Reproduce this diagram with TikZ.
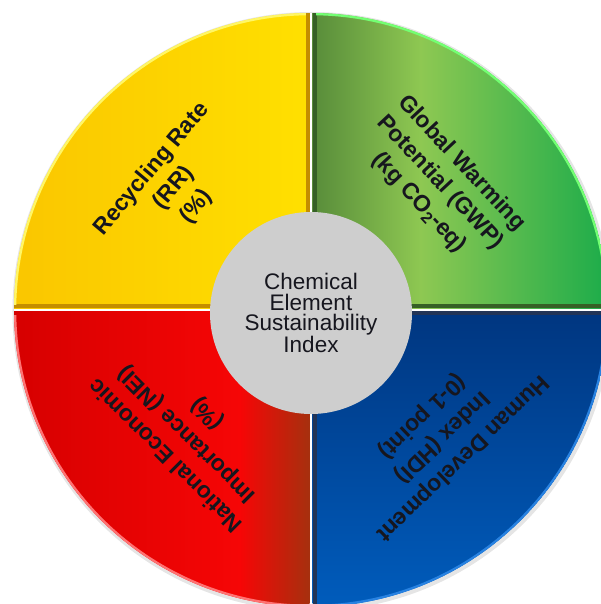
\documentclass[tikz,border=0pt]{standalone}
\usepackage{fontspec}
\setmainfont{Liberation Sans}
\definecolor{inkdark}{RGB}{22,22,30}
\definecolor{rrleft}{RGB}{250,198,0}
\definecolor{rrright}{RGB}{255,224,0}
\definecolor{rrbevel}{RGB}{196,142,0}
\definecolor{gwpdark}{RGB}{88,140,58}
\definecolor{gwplight}{RGB}{142,200,82}
\definecolor{gwpbright}{RGB}{28,172,74}
\definecolor{gwpbevel}{RGB}{54,96,38}
\definecolor{neileft}{RGB}{214,0,0}
\definecolor{neimid}{RGB}{246,6,6}
\definecolor{neibrown}{RGB}{166,48,14}
\definecolor{hditop}{RGB}{0,54,128}
\definecolor{hdibottom}{RGB}{0,92,188}
\definecolor{hdibevel}{RGB}{34,52,86}
\definecolor{hdirim}{RGB}{40,130,225}
\definecolor{hubgrey}{RGB}{206,206,206}

\begin{document}
\begin{tikzpicture}[x=1pt, y=1pt]
  \tikzstyle{quadlabel} = [font=\bfseries\fontsize{23}{29}\selectfont, text=inkdark, align=center, inner sep=0pt]
  \tikzstyle{hubcircle} = [circle, fill=hubgrey, minimum size=202pt, inner sep=0pt, text=inkdark, align=center, font=\fontsize{22.5}{20.5}\selectfont]
  \tikzstyle{bevel} = [line width=4pt]
  \tikzstyle{rim} = [line width=2.5pt]
  \useasboundingbox (-311,-294) rectangle (289,310);
  % soft shadow round the wheel
  \fill[black!10] (1,-1.5) circle (299.5);
  \begin{scope}
    \clip (0,0) circle (297);
    \fill[white] (-300,-300) rectangle (300,300);
    % Recycling Rate
    \shade[left color=rrleft, right color=rrright] (-297,1.5) rectangle (-1.5,297);
    \draw[bevel, rrbevel] (-297,3.5) -- (-3.5,3.5) -- (-3.5,297);
    % Global Warming Potential
    \shade[left color=gwpdark, right color=gwplight] (1.5,1.5) rectangle (110,297);
    \shade[left color=gwplight, right color=gwpbright] (109.5,1.5) rectangle (297,297);
    \draw[bevel, gwpbevel] (3.5,297) -- (3.5,3.5) -- (297,3.5);
    % National Economic Importance
    \shade[left color=neileft, right color=neimid] (-297,-297) rectangle (-70,-1.5);
    \shade[left color=neimid, right color=neibrown] (-70.5,-297) rectangle (-1.5,-1.5);
    % Human Development Index
    \shade[top color=hditop, bottom color=hdibottom] (1.5,-297) rectangle (297,-1.5);
    \draw[bevel, hdibevel] (297,-3.5) -- (3.5,-3.5) -- (3.5,-297);
    % light rims
    \foreach \a/\b/\c in {91/179/yellow!60!white, 1/89/green!55!white, 181/269/red!55!white, 271/359/hdirim}
    {
      \draw[rim, \c] (\a:296) arc (\a:\b:296);
    }
  \end{scope}

  \node[hubcircle] (hub) at (0,-3) {Chemical\\Element\\Sustainability\\Index};

  \node[quadlabel, rotate=50] (rr) at (-137,122) {Recycling Rate\\(RR)\\(\%)};
  \node[quadlabel, rotate=-47] (gwp) at (129,127) {Global Warming\\Potential (GWP)\\(kg CO\textsubscript{2}-eq)};
  \node[quadlabel, rotate=135] (nei) at (-124,-124) {National Economic\\Importance (NEI)\\(\%)};
  \node[quadlabel, rotate=-136] (hdi) at (131,-127) {Human Development\\Index (HDI)\\(0-1 point)};
\end{tikzpicture}
\end{document}
